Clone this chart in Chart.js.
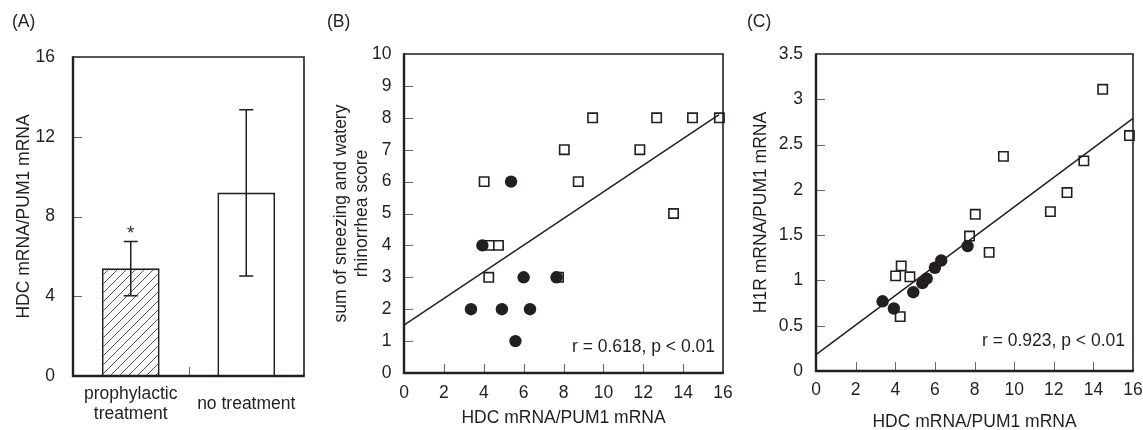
<!DOCTYPE html>
<html>
<head>
<meta charset="utf-8">
<script src="https://cdn.jsdelivr.net/npm/chart.js@4.4.1/dist/chart.umd.min.js"></script>
<style>
  body { margin: 0; background: #fff; font-family: "Liberation Sans", Arial, sans-serif; color: #231f20; }
  #tela { position: relative; width: 1143px; height: 430px; overflow: hidden; }
  .painel { position: absolute; top: 0; height: 430px; }
  .letra { position: absolute; top: 11px; font-size: 17.5px; line-height: 20px; }
</style>
</head>
<body>
<div id="tela">
  <div class="painel" style="left:0;width:320px"><canvas id="graficoA"></canvas></div>
  <div class="painel" style="left:320px;width:420px"><canvas id="graficoB"></canvas></div>
  <div class="painel" style="left:740px;width:403px"><canvas id="graficoC"></canvas></div>
  <div class="letra" style="left:12px">(A)</div>
  <div class="letra" style="left:327px">(B)</div>
  <div class="letra" style="left:747px">(C)</div>
</div>
<script>
// (A) HDC mRNA por grupo
const grupos = [['prophylactic', 'treatment'], 'no treatment']
const mediaHDC = [5.4, 9.2]
const erroSup = [6.75, 13.35]
const erroInf = [4.02, 5.02]
const ticksA = ['0', '4', '8', '12', '16']

// pacientes com tratamento profilático (círculos cheios)
const hdcCirculo = [3.36, 3.93, 4.91, 5.37, 5.59, 6.0, 6.32, 7.65]
const escoreCirculo = [2, 4, 2, 6, 1, 3, 2, 3]
const h1rCirculo = [0.77, 0.69, 0.87, 0.97, 1.02, 1.14, 1.22, 1.38]

// pacientes sem tratamento (quadrados vazios)
const hdcQuadrado = [4.02, 4.30, 4.25, 4.74, 7.75, 8.04, 8.74, 9.46, 11.83, 12.67, 13.52, 14.47, 15.82]
const escoreQuadrado = [6, 4, 3, 4, 3, 7, 6, 8, 7, 8, 5, 8, 8]
const h1rQuadrado = [1.05, 1.16, 0.60, 1.04, 1.49, 1.73, 1.31, 2.37, 1.76, 1.97, 2.32, 3.11, 2.60]

// retas de regressão (extremos)
const retaBx = [0, 15.8]
const retaBy = [1.5, 8.1]
const retaCx = [0, 16]
const retaCy = [0.18, 2.79]

const ticksHDC = ['0', '2', '4', '6', '8', '10', '12', '14', '16']
const ticksEscore = ['0', '1', '2', '3', '4', '5', '6', '7', '8', '9', '10']
const ticksH1R = ['0', '0.5', '1', '1.5', '2', '2.5', '3', '3.5']

const COR = '#231f20'
const FONTE = '"Liberation Sans", Arial, sans-serif'

Chart.defaults.font.family = FONTE
Chart.defaults.font.size = 17.5
Chart.defaults.color = COR
Chart.defaults.animation = false
Chart.defaults.maintainAspectRatio = false
Chart.defaults.plugins.legend.display = false
Chart.defaults.plugins.tooltip.enabled = false

function pontos(xs, ys) {
  return xs.map(function(x, i) { return { x: x, y: ys[i] } })
}

// caixa em volta da área do gráfico + tracinhos para dentro
const moldura = {
  id: 'moldura',
  afterDraw(chart, args, opts) {
    const { ctx, chartArea: a, scales } = chart
    ctx.save()
    ctx.strokeStyle = '#6a6767'
    ctx.lineWidth = 1
    ctx.beginPath()
    const ys = scales.y
    ys.ticks.forEach(function(t, i) {
      if (i === 0 || i === ys.ticks.length - 1) return
      const py = Math.round(ys.getPixelForValue(t.value)) + 0.5
      ctx.moveTo(a.left, py)
      ctx.lineTo(a.left + 9, py)
    })
    const xs = scales.x
    if (xs.type === 'category') {
      for (let i = 1; i < xs.ticks.length; i++) {
        const px = Math.round((xs.getPixelForTick(i - 1) + xs.getPixelForTick(i)) / 2) + 0.5
        ctx.moveTo(px, a.bottom)
        ctx.lineTo(px, a.bottom - 9)
      }
    } else {
      xs.ticks.forEach(function(t, i) {
        if (i === 0 || i === xs.ticks.length - 1) return
        const px = Math.round(xs.getPixelForValue(t.value)) + 0.5
        ctx.moveTo(px, a.bottom)
        ctx.lineTo(px, a.bottom - 9)
      })
    }
    ctx.stroke()

    ctx.strokeStyle = COR
    ctx.lineWidth = 1.6
    ctx.beginPath()
    ctx.moveTo(a.left, a.top)
    ctx.lineTo(a.right, a.top)
    ctx.lineTo(a.right, a.bottom)
    ctx.stroke()
    ctx.lineWidth = 2.4
    ctx.beginPath()
    ctx.moveTo(a.left, a.top - 0.8)
    ctx.lineTo(a.left, a.bottom)
    ctx.lineTo(a.right + 0.8, a.bottom)
    ctx.stroke()

    if (opts.texto) {
      ctx.fillStyle = COR
      ctx.font = '17.5px ' + FONTE
      ctx.textAlign = 'right'
      ctx.textBaseline = 'middle'
      ctx.fillText(opts.texto, a.right - 8, a.bottom - opts.altura)
    }
    ctx.restore()
  }
}

// barras de erro e asterisco do painel A
const barrasErro = {
  id: 'barrasErro',
  afterDatasetsDraw(chart) {
    const { ctx, scales: { y } } = chart
    const barras = chart.getDatasetMeta(0).data
    ctx.save()
    ctx.strokeStyle = COR
    ctx.lineWidth = 1.5
    barras.forEach(function(b, i) {
      const topo = y.getPixelForValue(erroSup[i])
      const base = y.getPixelForValue(erroInf[i])
      ctx.beginPath()
      ctx.moveTo(b.x, topo); ctx.lineTo(b.x, base)
      ctx.moveTo(b.x - 7, topo); ctx.lineTo(b.x + 7, topo)
      ctx.moveTo(b.x - 7, base); ctx.lineTo(b.x + 7, base)
      ctx.stroke()
    })
    ctx.fillStyle = COR
    ctx.font = '19px ' + FONTE
    ctx.textAlign = 'center'
    ctx.textBaseline = 'alphabetic'
    ctx.fillText('*', barras[0].x, y.getPixelForValue(erroSup[0]) - 2)
    ctx.restore()
  }
}

function criarHachura() {
  const c = document.createElement('canvas')
  c.width = 9
  c.height = 9
  const g = c.getContext('2d')
  g.fillStyle = '#fbfbfb'
  g.fillRect(0, 0, 9, 9)
  g.strokeStyle = '#555'
  g.lineWidth = 1
  g.beginPath()
  g.moveTo(0, 9); g.lineTo(9, 0)
  g.moveTo(-1, 1); g.lineTo(1, -1)
  g.moveTo(8, 10); g.lineTo(10, 8)
  g.stroke()
  return g.createPattern(c, 'repeat')
}

function eixoX(rotulos, titulo, altura, pad, padTitulo) {
  return {
    type: 'linear', min: 0, max: 16,
    grid: { display: false, drawTicks: false },
    border: { display: false },
    ticks: { stepSize: 2, padding: pad, callback: function(v, i) { return rotulos[i] } },
    title: { display: true, text: titulo, padding: { top: 0, bottom: padTitulo } },
    afterFit: function(s) { s.height = altura; s.paddingLeft = 0; s.paddingRight = 0 }
  }
}

function eixoY(max, passo, rotulos, titulo, largura, pad, padTitulo) {
  return {
    min: 0, max: max,
    grid: { display: false, drawTicks: false },
    border: { display: false },
    ticks: { stepSize: passo, padding: pad, callback: function(v, i) { return rotulos[i] } },
    title: { display: true, text: titulo, font: { lineHeight: 1.15 }, padding: { top: padTitulo, bottom: 0 } },
    afterFit: function(s) { s.width = largura }
  }
}

new Chart(document.getElementById('graficoA'), {
  type: 'bar',
  data: {
    labels: grupos,
    datasets: [{
      data: mediaHDC,
      backgroundColor: [criarHachura(), '#fff'],
      borderColor: COR,
      borderWidth: 1.8,
      barPercentage: 0.5,
      categoryPercentage: 1
    }]
  },
  options: {
    layout: { padding: { top: 57, right: 16, left: 0, bottom: 0 } },
    scales: {
      x: {
        grid: { display: false, drawTicks: false },
        border: { display: false },
        ticks: { padding: 18, crossAlign: 'center', font: { lineHeight: 1.15 } },
        afterFit: function(s) { s.height = 54 }
      },
      y: eixoY(16, 4, ticksA, 'HDC mRNA/PUM1 mRNA', 73, 18, 14.5)
    }
  },
  plugins: [barrasErro, moldura]
})

new Chart(document.getElementById('graficoB'), {
  type: 'scatter',
  data: {
    datasets: [
      { data: pontos(retaBx, retaBy), showLine: true, borderColor: COR, borderWidth: 1.5, pointRadius: 0, clip: false },
      { data: pontos(hdcCirculo, escoreCirculo), pointStyle: 'circle', pointRadius: 6.2, backgroundColor: COR, borderWidth: 0, clip: false },
      { data: pontos(hdcQuadrado, escoreQuadrado), pointStyle: 'rect', pointRadius: 6.6, backgroundColor: '#fff', borderColor: COR, borderWidth: 1.6, clip: false }
    ]
  },
  options: {
    layout: { padding: { top: 54, right: 17, left: 0, bottom: 0 } },
    scales: {
      x: eixoX(ticksHDC, 'HDC mRNA/PUM1 mRNA', 57, 9.2, 1.2),
      y: eixoY(10, 1, ticksEscore, ['sum of sneezing and watery', 'rhinorrhea score'], 84, 12.5, 11.6)
    },
    plugins: { moldura: { texto: 'r = 0.618, p < 0.01', altura: 26.3 } }
  },
  plugins: [moldura]
})

new Chart(document.getElementById('graficoC'), {
  type: 'scatter',
  data: {
    datasets: [
      { data: pontos(retaCx, retaCy), showLine: true, borderColor: COR, borderWidth: 1.5, pointRadius: 0, clip: false },
      { data: pontos(hdcCirculo, h1rCirculo), pointStyle: 'circle', pointRadius: 6.2, backgroundColor: COR, borderWidth: 0, clip: false },
      { data: pontos(hdcQuadrado, h1rQuadrado), pointStyle: 'rect', pointRadius: 6.6, backgroundColor: '#fff', borderColor: COR, borderWidth: 1.6, clip: false }
    ]
  },
  options: {
    layout: { padding: { top: 54, right: 10, left: 0, bottom: 0 } },
    scales: {
      x: eixoX(ticksHDC, 'HDC mRNA/PUM1 mRNA', 59, 8.9, -2.2),
      y: eixoY(3.5, 0.5, ticksH1R, 'H1R mRNA/PUM1 mRNA', 76, 13, 11.2)
    },
    plugins: { moldura: { texto: 'r = 0.923, p < 0.01', altura: 29.6 } }
  },
  plugins: [moldura]
})
</script>
</body>
</html>
